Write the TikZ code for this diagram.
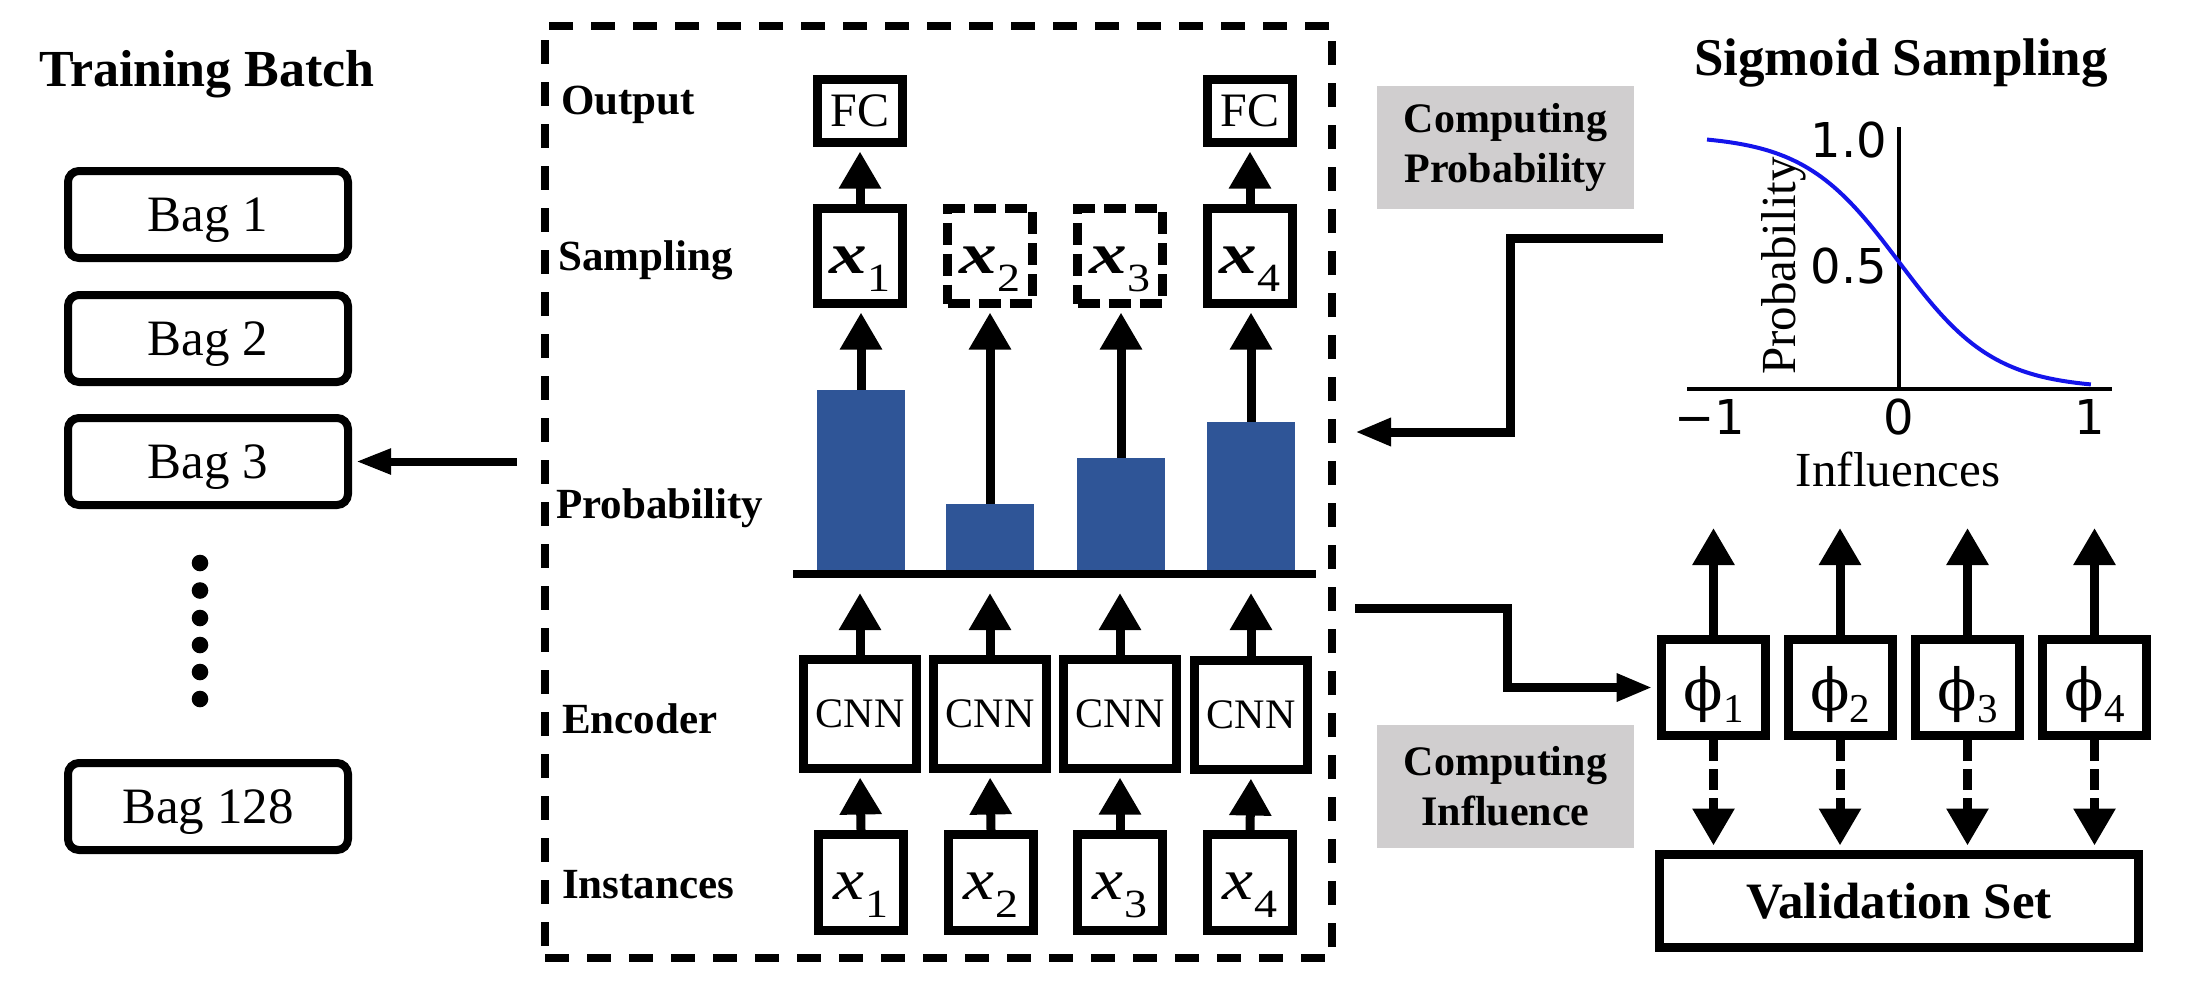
\documentclass[tikz,border=0pt]{standalone}
\usepackage{fontspec}
\setmainfont{Liberation Serif}
\newfontfamily\djs{DejaVu Sans}
\newfontfamily\djserif{DejaVu Serif}
\usetikzlibrary{arrows.meta}
\newcommand\fsz[1]{\fontsize{#1}{#1}\selectfont}
\definecolor{barblue}{RGB}{47,85,151}
\definecolor{greyc}{RGB}{208,206,207}
\definecolor{curveblue}{RGB}{20,20,235}
\tikzset{
  bagbox/.style={draw, line width=8pt, rounded corners=11pt, minimum width=280pt, minimum height=87pt, inner sep=0pt, font=\fsz{51}, text depth=0pt},
  netbox/.style={draw, line width=9pt, inner sep=0pt},
  fcbox/.style={netbox, minimum width=85pt, minimum height=63pt, font=\fsz{48}, text depth=0pt},
  sbox/.style={netbox, minimum width=85pt, minimum height=95pt, font=\fsz{58}, text height=34pt, text depth=0pt},
  dbox/.style={sbox, dash pattern=on 22pt off 9pt},
  cnnbox/.style={netbox, minimum width=113pt, minimum height=109pt, font=\fsz{42}, text depth=0pt},
  insbox/.style={netbox, minimum width=85pt, minimum height=96pt, font=\fsz{58}, text height=34pt, text depth=0pt},
  phibox/.style={netbox, minimum width=104pt, minimum height=96pt, text height=45pt, text depth=0pt},
  valbox/.style={netbox, minimum width=479pt, minimum height=93pt, font=\bfseries\fsz{51}, text depth=0pt},
  rowlab/.style={anchor=base west, inner sep=0pt, font=\bfseries\fsz{43}},
  greybox/.style={fill=greyc, minimum width=257pt, minimum height=123pt, inner sep=0pt, align=center, font=\bfseries\fontsize{42}{50}\selectfont},
  bar/.style={fill=barblue, inner sep=0pt, minimum width=88pt, anchor=south},
  vup/.style={line width=9pt, -{Triangle[length=37pt,width=40pt]}},
  harr/.style={line width=9pt, -{Triangle[length=36pt,width=26pt]}},
  tobox/.style={shorten >=4.5pt},
  dasharr/.style={vup, dash pattern=on 21pt off 8pt},
  ticklab/.style={inner sep=0pt, font=\djs\fsz{48}},
  axisline/.style={line width=3.5pt}
}
\newcommand\sx[1]{\scalebox{1.3}[1]{\textbf{\textit{x}}}\kern1pt\raisebox{-18pt}{\scalebox{1.15}[1]{\fsz{40}\mdseries\upshape #1}}}
\newcommand\ix[1]{\scalebox{1.2}[1]{\textit{x}}\kern1pt\raisebox{-18pt}{\scalebox{1.15}[1]{\fsz{40}\upshape #1}}}
\newcommand\ph[1]{{\djserif\fsz{58}ϕ}\raisebox{-12pt}{\fsz{41}#1}}
\begin{document}
\begin{tikzpicture}[x=1pt,y=-1pt]
\useasboundingbox (0,0) rectangle (2193,997);

% ---------- left: training batch ----------
\node[anchor=base, inner sep=0pt, font=\bfseries\fsz{52}] (tb) at (207,86) {Training Batch};
\node[bagbox] (bag1) at (208,214.5) {Bag 1};
\node[bagbox] (bag2) at (208,338.5) {Bag 2};
\node[bagbox] (bag3) at (208,461.5) {Bag 3};
\node[bagbox] (bag128) at (208,806.5) {Bag 128};
\foreach \yy in {563,590.5,618,645,672,699} \fill (200,\yy) circle (8.3pt);

% ---------- middle: dashed frame ----------
\node[draw, line width=8pt, dash pattern=on 24pt off 18pt, minimum width=787pt, minimum height=932pt, inner sep=0pt] (frame) at (938.5,492) {};
\coordinate (bagarrs) at (517,461.5);
\draw[harr, line width=8pt, -{Triangle[length=35pt,width=24pt]}, shorten >=4pt] (bagarrs) -- (bag3.east);

% row labels
\node[rowlab] (lout) at (561,114) {Output};
\node[rowlab] (lsam) at (558,270) {Sampling};
\node[rowlab] (lprob) at (556,518) {Probability};
\node[rowlab] (lenc) at (562,733) {Encoder};
\node[rowlab] (lins) at (562,898) {Instances};

% output
\node[fcbox] (fc1) at (860,111) {FC};
\node[fcbox] (fc4) at (1250,111) {FC};
% sampling
\node[sbox] (s1) at (860,256) {\sx{1}};
\node[dbox] (s2) at (990,256) {\sx{2}};
\node[dbox] (s3) at (1120,256) {\sx{3}};
\node[sbox] (s4) at (1250,256) {\sx{4}};
% probability bars
\node[bar, minimum height=180pt] (p1) at (861,570) {};
\node[bar, minimum height=66pt] (p2) at (990,570) {};
\node[bar, minimum height=112pt] (p3) at (1121,570) {};
\node[bar, minimum height=148pt] (p4) at (1251,570) {};
\coordinate (blL) at (793,574);
\coordinate (blR) at (1316,574);
\draw[line width=8pt] (blL) -- (blR);
% encoder
\node[cnnbox] (c1) at (860,714) {CNN};
\node[cnnbox] (c2) at (990,714) {CNN};
\node[cnnbox] (c3) at (1120,714) {CNN};
\node[cnnbox] (c4) at (1251,715) {CNN};
% instances
\node[insbox] (i1) at (861,882.5) {\ix{1}};
\node[insbox] (i2) at (991,882.5) {\ix{2}};
\node[insbox] (i3) at (1120,882.5) {\ix{3}};
\node[insbox] (i4) at (1250,882.5) {\ix{4}};
\coordinate (tipline) at (0,593);

\foreach \k in {1,2,3,4}{
  \draw[vup, tobox] (i\k.north) -- (c\k.south);
  \draw[vup] (c\k.north) -- (c\k.north |- tipline);
  \draw[vup, tobox] (p\k.north) -- (p\k.north |- s\k.south);
}
\draw[vup, tobox] (s1.north) -- (fc1.south);
\draw[vup, tobox] (s4.north) -- (fc4.south);

% ---------- right: sigmoid sampling ----------
\node[anchor=base, inner sep=0pt, font=\bfseries\fsz{53}] (sigt) at (1901,75) {Sigmoid Sampling};
\node[greybox] (gp) at (1505.5,147) {Computing\\Probability};
\node[greybox] (gi) at (1505.5,786) {Computing\\Influence};

\draw[axisline] (1899,127) -- (1899,391);
\draw[axisline] (1687,389) -- (2112,389);
\draw[curveblue, line width=4pt, domain=-1:1, samples=120, variable=\t] plot ({1899+192*\t},{389-254/(1+exp(4*\t))});
\node[ticklab, anchor=east] (t10) at (1887,140) {1.0};
\node[ticklab, anchor=east] (t05) at (1887,266.5) {0.5};
\node[ticklab] (tm1) at (1710,417) {−1};
\node[ticklab] (t0) at (1899,417) {0};
\node[ticklab] (t1) at (2090,417) {1};
\node[rotate=90, inner sep=0pt, font=\fsz{49}] (ylab) at (1784,266) {Probability};
\node[anchor=base, inner sep=0pt, font=\fsz{49}] (xlab) at (1898,486) {Influences};

% elbow arrow to probabilities
\coordinate (e1s) at (1663,238);
\coordinate (e1m) at (1510,238);
\coordinate (e1t) at (1355,432);
\draw[harr] (e1s) -- (e1m) |- (e1t);

% influence part
\node[phibox] (f1) at (1713.5,687.5) {\ph{1}};
\node[phibox] (f2) at (1840,687.5) {\ph{2}};
\node[phibox] (f3) at (1967.5,687.5) {\ph{3}};
\node[phibox] (f4) at (2094.5,687.5) {\ph{4}};
\node[valbox] (val) at (1899,901) {Validation Set};
\coordinate (uptip) at (0,528);
\foreach \k in {1,2,3,4}{
  \draw[vup] (f\k.north) -- (f\k.north |- uptip);
  \draw[dasharr, tobox] (f\k.south) -- (f\k.south |- val.north);
}
\coordinate (e2s) at (1355,608);
\coordinate (e2m) at (1507,608);
\draw[harr, tobox] (e2s) -- (e2m) |- (f1.west);
\end{tikzpicture}
\end{document}
